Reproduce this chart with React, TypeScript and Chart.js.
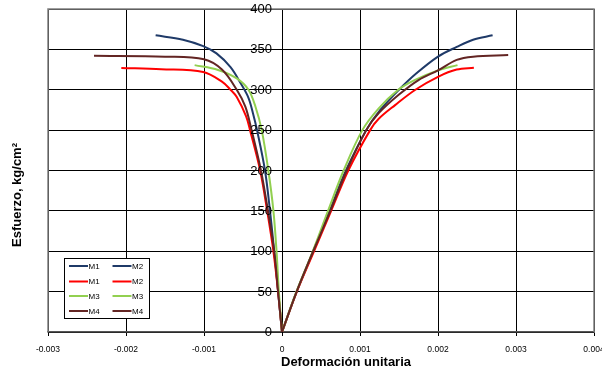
import React, { useEffect, useRef } from 'react';
import { Chart, registerables } from 'chart.js';

Chart.register(...registerables);

// ---- data (strain = deformación unitaria, stress = esfuerzo kg/cm²) ----
const seriesLabels = ['M1', 'M2', 'M1', 'M2', 'M3', 'M3', 'M4', 'M4'];
const seriesColors = ['#1F3A68', '#1F3A68', '#FF0000', '#FF0000', '#92D050', '#92D050', '#632523', '#632523'];

// navy, lateral (negative) side
const navyLeftStrain = [0, -0.00005, -0.0001, -0.000154, -0.000218, -0.00032, -0.00037, -0.00043, -0.00053, -0.00066, -0.00084, -0.00101, -0.00127, -0.00162];
const navyLeftStress = [0, 50, 100, 150, 200, 250, 270, 290, 308, 328, 345, 354, 362, 367.4];
// navy, axial (positive) side
const navyRightStrain = [0, 0.000188, 0.0004, 0.00061, 0.00082, 0.00108, 0.00126, 0.0015, 0.00172, 0.002, 0.00224, 0.00245, 0.0027];
const navyRightStress = [0, 50, 100, 150, 200, 250, 275, 300, 320, 341, 353, 362, 367.4];

// red
const redLeftStrain = [0, -0.00005, -0.00011, -0.00019, -0.00028, -0.00041, -0.00046, -0.00058, -0.00066, -0.00077, -0.00101, -0.00155, -0.00206];
const redLeftStress = [0, 50, 100, 150, 200, 250, 267, 291, 300, 310, 322, 325.5, 327];
const redRightStrain = [0, 0.00019, 0.00041, 0.00063, 0.00085, 0.00113, 0.00124, 0.00145, 0.00171, 0.002, 0.00224, 0.00246];
const redRightStress = [0, 50, 100, 150, 200, 250, 264, 281, 300, 316, 325, 327.3];

// green
const greenLeftStrain = [0, -0.00004, -0.00007, -0.00011, -0.000175, -0.00026, -0.00034, -0.00043, -0.00058, -0.00082, -0.00112];
const greenLeftStress = [0, 50, 100, 150, 200, 250, 279, 300, 314, 324.5, 330.5];
const greenRightStrain = [0, 0.000185, 0.000395, 0.00059, 0.00079, 0.00103, 0.00124, 0.00149, 0.0017, 0.002, 0.00225];
const greenRightStress = [0, 50, 100, 150, 200, 250, 277, 300, 312, 324, 330.5];

// maroon
const maroonLeftStrain = [0, -0.00005, -0.0001, -0.00018, -0.00027, -0.00039, -0.00047, -0.00058, -0.00077, -0.001, -0.0015, -0.00241];
const maroonLeftStress = [0, 50, 100, 150, 200, 250, 279, 300, 325, 337.7, 341, 342.2];
const maroonRightStrain = [0, 0.000188, 0.0004, 0.00062, 0.00083, 0.00108, 0.00124, 0.0015, 0.00175, 0.002, 0.00224, 0.00245, 0.0029];
const maroonRightStress = [0, 50, 100, 150, 200, 250, 271, 294, 312, 324, 337, 341, 343];

const seriesStrain = [navyLeftStrain, navyRightStrain, redLeftStrain, redRightStrain, greenLeftStrain, greenRightStrain, maroonLeftStrain, maroonRightStrain];
const seriesStress = [navyLeftStress, navyRightStress, redLeftStress, redRightStress, greenLeftStress, greenRightStress, maroonLeftStress, maroonRightStress];

const xMin = -0.003;
const xMax = 0.004;
const xStep = 0.001;
const yMin = 0;
const yMax = 400;
const yStep = 50;

const xTitle = 'Deformación unitaria';
const yTitle = 'Esfuerzo, kg/cm²';

const FONT = 'Arial, "Liberation Sans", sans-serif';

const overlayPlugin = {
  id: 'overlay',
  beforeDatasetsDraw(chart: any) {
    const { ctx, chartArea: a } = chart;
    ctx.save();
    ctx.strokeStyle = '#808080';
    ctx.lineWidth = 1.5;
    ctx.beginPath();
    ctx.moveTo(a.left, a.bottom);
    ctx.lineTo(a.left, a.top);
    ctx.lineTo(a.right, a.top);
    ctx.lineTo(a.right, a.bottom);
    ctx.stroke();
    ctx.restore();
  },
  afterDraw(chart: any) {
    const { ctx } = chart;
    ctx.save();

    // y tick labels, placed from the y scale, left of the axis at x = 0
    const ys = chart.scales.y;
    const xs = chart.scales.x;
    const axisX = xs.getPixelForValue(0);
    ctx.fillStyle = '#000';
    ctx.font = `13px ${FONT}`;
    ctx.textAlign = 'right';
    ctx.textBaseline = 'middle';
    for (const t of ys.ticks) {
      ctx.fillText(String(t.value), axisX - 10, ys.getPixelForValue(t.value) + 0.5);
    }

    // axis titles
    ctx.font = `bold 13px ${FONT}`;
    ctx.textAlign = 'center';
    ctx.fillText(xTitle, 346, 362);
    ctx.save();
    ctx.translate(17, 195);
    ctx.rotate(-Math.PI / 2);
    ctx.fillText(yTitle, 0, 0);
    ctx.restore();

    // legend
    const lx = 64, ly = 258, lw = 85, lh = 60;
    ctx.fillStyle = '#fff';
    ctx.fillRect(lx, ly, lw, lh);
    ctx.strokeStyle = '#000';
    ctx.lineWidth = 1;
    ctx.strokeRect(lx + 0.5, ly + 0.5, lw, lh);
    const ds = chart.data.datasets;
    ctx.font = `8px ${FONT}`;
    ctx.textAlign = 'left';
    ctx.textBaseline = 'middle';
    const rowY = [266, 281.5, 296, 311];
    const colX = [69, 112.5];
    for (let i = 0; i < ds.length; i++) {
      const r = Math.floor(i / 2);
      const c = i % 2;
      const x0 = colX[c];
      const y0 = rowY[r];
      ctx.strokeStyle = ds[i].borderColor;
      ctx.lineWidth = 2;
      ctx.beginPath();
      ctx.moveTo(x0, y0);
      ctx.lineTo(x0 + 19, y0);
      ctx.stroke();
      ctx.fillStyle = '#000';
      ctx.fillText(ds[i].label, x0 + 19.5, y0 + 0.5);
    }
    ctx.restore();
  },
};

export default function App() {
  const ref = useRef<HTMLCanvasElement | null>(null);

  useEffect(() => {
    if (!ref.current) return;
    const datasets = seriesLabels.map((label, i) => ({
      label,
      data: seriesStrain[i].map((x, j) => ({ x, y: seriesStress[i][j] })),
      borderColor: seriesColors[i],
      backgroundColor: seriesColors[i],
      borderWidth: 2,
      pointRadius: 0,
      showLine: true,
      fill: false,
      tension: 0.35,
      order: 7 - i,
    }));

    const chart = new Chart(ref.current, {
      type: 'scatter',
      data: { datasets },
      plugins: [overlayPlugin],
      options: {
        responsive: false,
        animation: false,
        devicePixelRatio: 1,
        layout: { padding: { left: 48, right: 8, top: 9, bottom: 0 } },
        plugins: {
          legend: { display: false },
          tooltip: { enabled: false },
          title: { display: false },
        },
        scales: {
          x: {
            type: 'linear',
            position: 'bottom',
            min: xMin,
            max: xMax,
            afterFit: (s: any) => {
              s.height = 39;
              s.paddingLeft = 0;
              s.paddingRight = 0;
            },
            ticks: {
              stepSize: xStep,
              autoSkip: false,
              maxRotation: 0,
              padding: 9,
              color: '#000',
              font: { family: FONT, size: 8.5 },
              callback: (v: any) => (Math.abs(Number(v)) < 1e-9 ? '0' : Number(v).toFixed(3)),
            },
            grid: { color: '#000', lineWidth: 1, tickLength: 4, drawTicks: true },
            border: { color: '#555', width: 1.5 },
          },
          y: {
            type: 'linear',
            position: { x: 0 } as any,
            min: yMin,
            max: yMax,
            afterFit: (s: any) => {
              s.paddingTop = 0;
              s.paddingBottom = 0;
            },
            ticks: {
              stepSize: yStep,
              display: false,
            },
            grid: { color: '#000', lineWidth: 1, tickLength: 5, drawTicks: true },
            border: { color: '#000', width: 1 },
          },
        },
      },
    });
    return () => chart.destroy();
  }, []);

  return (
    <div style={{ position: 'absolute', left: 0, top: 0, width: 602, height: 371, background: '#fff' }}>
      <canvas ref={ref} width={602} height={371} style={{ display: 'block', width: 602, height: 371 }} />
    </div>
  );
}
